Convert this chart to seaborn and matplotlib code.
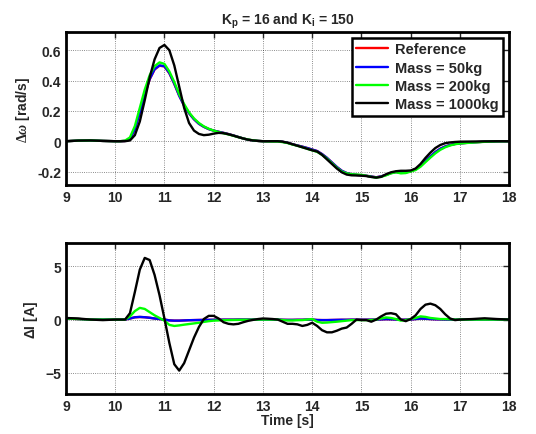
import matplotlib
matplotlib.use('Agg')
import matplotlib.pyplot as plt
import seaborn as sns
from matplotlib.ticker import FormatStrFormatter

# Time grid [s]
t = [9.0, 9.25, 9.5, 9.75,
     10.0, 10.1, 10.2, 10.3, 10.4, 10.5, 10.6, 10.7, 10.8, 10.9,
     11.0, 11.1, 11.2, 11.3, 11.4, 11.5, 11.6, 11.7, 11.8, 11.9,
     12.0, 12.1, 12.2, 12.3, 12.4, 12.5, 12.6, 12.7, 12.8, 12.9,
     13.0, 13.1, 13.2, 13.3, 13.4, 13.5, 13.6, 13.7, 13.8, 13.9,
     14.0, 14.1, 14.2, 14.3, 14.4, 14.5, 14.6, 14.7, 14.8, 14.9,
     15.0, 15.1, 15.2, 15.3, 15.4, 15.5, 15.6, 15.7, 15.8, 15.9,
     16.0, 16.1, 16.2, 16.3, 16.4, 16.5, 16.6, 16.7, 16.8, 16.9,
     17.0, 17.25, 17.5, 17.75, 18.0]

# Speed deviation [rad/s]
dw_ref = [0.0, 0.004, 0.005, 0.002,
          0.0, 0.0, 0.002, 0.015, 0.078, 0.188, 0.308, 0.408, 0.473, 0.498,
          0.493, 0.448, 0.378, 0.3, 0.235, 0.185, 0.145, 0.115, 0.095, 0.08,
          0.07, 0.062, 0.055, 0.047, 0.038, 0.028, 0.018, 0.01, 0.005, 0.002,
          0.0, 0.0, 0.0, 0.0, -0.004, -0.01, -0.02, -0.028, -0.036, -0.045,
          -0.055, -0.065, -0.085, -0.11, -0.14, -0.17, -0.195, -0.21, -0.218, -0.222,
          -0.225, -0.228, -0.233, -0.238, -0.232, -0.222, -0.21, -0.203, -0.207, -0.205,
          -0.198, -0.185, -0.16, -0.13, -0.1, -0.072, -0.05, -0.035, -0.025, -0.018,
          -0.014, -0.008, -0.003, -0.001, 0.0]
dw_50 = [0.0, 0.004, 0.005, 0.002,
         0.0, 0.0, 0.002, 0.015, 0.08, 0.19, 0.31, 0.41, 0.475, 0.5,
         0.495, 0.45, 0.38, 0.3, 0.235, 0.185, 0.145, 0.115, 0.095, 0.08,
         0.07, 0.062, 0.055, 0.047, 0.038, 0.028, 0.018, 0.01, 0.005, 0.002,
         0.0, 0.0, 0.0, 0.0, -0.004, -0.01, -0.02, -0.028, -0.036, -0.045,
         -0.055, -0.065, -0.085, -0.11, -0.14, -0.17, -0.195, -0.21, -0.218, -0.222,
         -0.225, -0.228, -0.233, -0.238, -0.232, -0.222, -0.21, -0.203, -0.207, -0.205,
         -0.198, -0.185, -0.16, -0.13, -0.1, -0.072, -0.05, -0.035, -0.025, -0.018,
         -0.014, -0.008, -0.003, -0.001, 0.0]
dw_200 = [0.0, 0.004, 0.005, 0.002,
          0.0, 0.0, 0.004, 0.025, 0.1, 0.22, 0.34, 0.435, 0.495, 0.52,
          0.51, 0.46, 0.39, 0.31, 0.245, 0.19, 0.15, 0.12, 0.098, 0.082,
          0.07, 0.06, 0.052, 0.045, 0.036, 0.027, 0.018, 0.011, 0.006, 0.002,
          0.0, -0.001, -0.002, -0.002, -0.006, -0.012, -0.022, -0.03, -0.04, -0.05,
          -0.06, -0.07, -0.09, -0.115, -0.145, -0.175, -0.2, -0.212, -0.218, -0.22,
          -0.222, -0.228, -0.235, -0.24, -0.235, -0.225, -0.212, -0.205, -0.212, -0.21,
          -0.2, -0.19, -0.168, -0.138, -0.108, -0.08, -0.057, -0.04, -0.028, -0.02,
          -0.015, -0.009, -0.004, -0.001, 0.0]
dw_1000 = [0.0, 0.004, 0.005, 0.002,
           0.0, 0.0, 0.0, 0.005, 0.04, 0.13, 0.27, 0.42, 0.54, 0.615,
           0.635, 0.6, 0.5, 0.36, 0.22, 0.12, 0.07, 0.048, 0.04, 0.043,
           0.05, 0.055, 0.053, 0.046, 0.037, 0.027, 0.018, 0.01, 0.005, 0.002,
           0.0, 0.0, 0.0, 0.0, -0.003, -0.01, -0.02, -0.03, -0.04, -0.05,
           -0.06, -0.068, -0.09, -0.12, -0.15, -0.18, -0.205, -0.22, -0.225, -0.226,
           -0.227, -0.23, -0.236, -0.24, -0.235, -0.218, -0.205, -0.198, -0.195, -0.195,
           -0.193, -0.18, -0.15, -0.11, -0.075, -0.045, -0.025, -0.013, -0.008, -0.005,
           -0.003, -0.002, -0.001, 0.0, 0.0]

# Current deviation [A]
di_ref = [0.1, 0.05, 0.0, 0.0,
          0.0, 0.0, 0.0, 0.1, 0.21, 0.24, 0.22, 0.17, 0.1, 0.05,
          0.0, -0.07, -0.1, -0.1, -0.08, -0.06, -0.05, -0.04, -0.03, -0.03,
          -0.02, -0.02, -0.01, -0.01, -0.01, 0.0, 0.0, 0.0, 0.0, 0.0,
          0.0, 0.0, 0.0, 0.0, -0.02, -0.03, -0.03, -0.02, -0.02, 0.0,
          0.0, -0.04, -0.05, -0.05, -0.04, -0.03, -0.02, -0.02, -0.01, -0.01,
          -0.01, -0.01, -0.01, 0.0, 0.02, 0.04, 0.03, 0.01, -0.02, -0.01,
          0.01, 0.05, 0.1, 0.08, 0.05, 0.03, 0.02, 0.01, 0.0, 0.0,
          0.0, 0.0, 0.0, 0.0, 0.0]
di_50 = [0.1, 0.05, 0.0, 0.0,
         0.0, 0.0, 0.0, 0.1, 0.22, 0.25, 0.22, 0.17, 0.1, 0.05,
         0.0, -0.08, -0.1, -0.1, -0.08, -0.06, -0.05, -0.04, -0.03, -0.03,
         -0.02, -0.02, -0.01, -0.01, -0.01, 0.0, 0.0, 0.0, 0.0, 0.0,
         0.0, 0.0, 0.0, 0.0, -0.02, -0.03, -0.03, -0.02, -0.02, 0.0,
         0.0, -0.04, -0.05, -0.05, -0.04, -0.03, -0.02, -0.02, -0.01, -0.01,
         -0.01, -0.01, -0.01, 0.0, 0.02, 0.04, 0.03, 0.01, -0.02, -0.01,
         0.01, 0.05, 0.1, 0.08, 0.05, 0.03, 0.02, 0.01, 0.0, 0.0,
         0.0, 0.0, 0.0, 0.0, 0.0]
di_200 = [0.1, 0.05, 0.0, 0.0,
          0.0, 0.0, 0.0, 0.3, 0.8, 1.1, 1.0, 0.7, 0.4, 0.15,
          -0.1, -0.5, -0.6, -0.55, -0.48, -0.42, -0.36, -0.3, -0.22, -0.15,
          -0.1, -0.08, -0.06, -0.05, -0.04, -0.03, -0.02, -0.02, -0.01, 0.0,
          0.0, 0.0, 0.0, 0.0, -0.05, -0.08, -0.08, -0.06, -0.05, 0.0,
          0.05, -0.2, -0.3, -0.28, -0.24, -0.2, -0.15, -0.1, -0.05, -0.05,
          -0.05, -0.05, -0.05, 0.0, 0.1, 0.2, 0.15, 0.05, -0.1, -0.05,
          0.05, 0.15, 0.3, 0.25, 0.15, 0.1, 0.05, 0.05, 0.03, 0.0,
          0.0, 0.0, 0.0, 0.0, 0.0]
di_1000 = [0.15, 0.1, 0.0, -0.05,
           0.0, 0.0, 0.0, 0.6, 2.6, 4.7, 5.8, 5.6, 4.2, 2.3,
           0.1, -2.2, -4.2, -4.8, -4.1, -2.9, -1.7, -0.7, 0.05, 0.35,
           0.35, 0.1, -0.25, -0.4, -0.45, -0.4, -0.25, -0.12, -0.03, 0.05,
           0.1, 0.08, 0.05, 0.0, -0.2, -0.4, -0.4, -0.45, -0.6, -0.5,
           -0.3, -0.6, -1.0, -1.2, -1.2, -1.05, -0.85, -0.75, -0.4, 0.0,
           -0.05, -0.05, -0.2, 0.0, 0.3, 0.55, 0.6, 0.5, 0.0, -0.15,
           0.05, 0.4, 1.0, 1.4, 1.5, 1.35, 1.0, 0.5, 0.1, -0.05,
           0.0, 0.05, 0.12, 0.05, 0.0]

labels = ['Reference', 'Mass = 50kg', 'Mass = 200kg', 'Mass = 1000kg']
colors = ['#ff0000', '#0000ff', '#00ff00', '#000000']

sns.set_style('white')
plt.rcParams['font.family'] = ['Liberation Sans', 'DejaVu Sans']
plt.rcParams['font.weight'] = 'bold'
plt.rcParams['axes.unicode_minus'] = True
plt.rcParams['mathtext.fontset'] = 'custom'
plt.rcParams['mathtext.rm'] = 'Liberation Serif'
plt.rcParams['mathtext.bf'] = 'Liberation Sans:bold'
plt.rcParams['mathtext.it'] = 'Liberation Serif:italic'
plt.rcParams['mathtext.default'] = 'bf'

fig = plt.figure(figsize=(5.36, 4.35), dpi=100)
ax1 = fig.add_axes([0.123, 0.572, 0.827, 0.352])
ax2 = fig.add_axes([0.123, 0.092, 0.827, 0.347])

for ys, lab, c in zip([dw_ref, dw_50, dw_200, dw_1000], labels, colors):
    sns.lineplot(x=t, y=ys, ax=ax1, color=c, lw=1.7, label=lab)
for ys, lab, c in zip([di_ref, di_50, di_200, di_1000], labels, colors):
    sns.lineplot(x=t, y=ys, ax=ax2, color=c, lw=1.7, legend=False)

for ax in (ax1, ax2):
    ax.set_xlim(9, 18)
    ax.set_xticks(range(9, 19))
    ax.grid(True, color='black', ls=':', lw=0.6, alpha=0.6)
    for s in ax.spines.values():
        s.set_visible(True)
        s.set_linewidth(2)
        s.set_color('black')
    ax.tick_params(direction='in', top=True, right=True, length=4, width=1,
                   labelsize=10)
    for lbl in ax.get_xticklabels() + ax.get_yticklabels():
        lbl.set_fontweight('bold')

ax1.set_ylim(-0.29, 0.72)
ax1.set_yticks([-0.2, 0, 0.2, 0.4, 0.6])
ax1.yaxis.set_major_formatter(FormatStrFormatter('%g'))
ax1.set_ylabel(r'$\mathrm{\Delta}\mathit{\omega}$ [rad/s]', fontsize=10, fontweight='bold')
ax1.set_title(r'K$_\mathbf{p}$ = 16 and K$_\mathbf{i}$ = 150', fontsize=10,
              fontweight='bold', pad=6)

ax2.set_ylim(-7, 7.2)
ax2.set_yticks([-5, 0, 5])
ax2.set_ylabel(r'$\mathbf{\Delta}$I [A]', fontsize=10, fontweight='bold')
ax2.set_xlabel('Time [s]', fontsize=10, fontweight='bold', labelpad=0)

leg = ax1.legend(loc='upper right', fancybox=False, framealpha=1,
                 edgecolor='black', fontsize=10.5, borderaxespad=0.4,
                 handlelength=2.2, labelspacing=0.3, borderpad=0.3,
                 handletextpad=0.5)
leg.get_frame().set_linewidth(1.8)
for txt in leg.get_texts():
    txt.set_fontweight('bold')

fig.savefig('out.png', dpi=100)
